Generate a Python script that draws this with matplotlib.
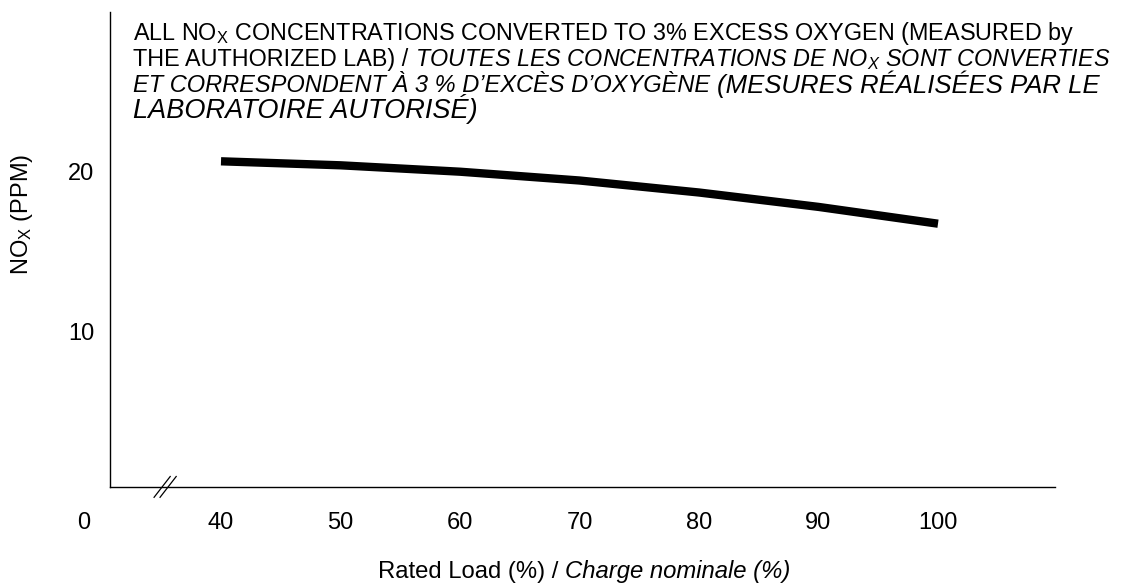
import matplotlib
matplotlib.use("Agg")
import matplotlib.pyplot as plt

W, H, DPI = 1143, 583, 100

# NOx vs rated load
load = [40, 50, 60, 70, 80, 90, 100]
nox = [20.65, 20.4, 20.0, 19.45, 18.7, 17.8, 16.75]

x_ticks = [28.5, 40, 50, 60, 70, 80, 90, 100]
x_tick_labels = ["0", "40", "50", "60", "70", "80", "90", "100"]
y_ticks = [10, 20]
y_tick_labels = ["10", "20"]

plt.rcParams["font.family"] = ["Liberation Sans", "DejaVu Sans"]
plt.rcParams["mathtext.fontset"] = "custom"
plt.rcParams["mathtext.rm"] = "Liberation Sans"
plt.rcParams["mathtext.it"] = "Liberation Sans:italic"

X_MIN, X_MAX = 27, 110
Y_MIN, Y_MAX = 0.3, 30
PX_PER_X = 11.95
PX_PER_Y = 16.0
X40_PX = 221
Y20_PX = 171.7


def px(x, y):
    return x / W, 1 - y / H


fig = plt.figure(figsize=(W / DPI, H / DPI), dpi=DPI)
left = X40_PX - (40 - X_MIN) * PX_PER_X
right = X40_PX + (X_MAX - 40) * PX_PER_X
top = Y20_PX - (Y_MAX - 20) * PX_PER_Y
bottom = Y20_PX + (20 - Y_MIN) * PX_PER_Y
ax = fig.add_axes([left / W, 1 - bottom / H, (right - left) / W, (bottom - top) / H])

ax.plot(load, nox, color="black", lw=6.0, solid_capstyle="butt")

ax.set_xlim(X_MIN, X_MAX)
ax.set_ylim(Y_MIN, Y_MAX)
for s in ["top", "right"]:
    ax.spines[s].set_visible(False)
ax.spines["left"].set_position(("data", 30.7))
ax.spines["bottom"].set_bounds(30.7, 109.8)
ax.spines["left"].set_linewidth(1.0)
ax.spines["bottom"].set_linewidth(1.0)

ax.set_xticks(x_ticks)
ax.set_xticklabels(x_tick_labels)
ax.set_yticks(y_ticks)
ax.set_yticklabels(y_tick_labels)
ax.tick_params(axis="x", length=0, pad=18, labelsize=17)
ax.tick_params(axis="y", length=0, pad=11, labelsize=17)

# axis break marks
for x0 in [34.4, 34.9]:
    ax.plot([x0, x0 + 1.35], [Y_MIN - 0.65, Y_MIN + 0.65], color="black",
            lw=0.9, clip_on=False)

renderer = fig.canvas.get_renderer()


def draw_runs(x, y, runs):
    for text, size, style, dy in runs:
        t = fig.text(*px(x, y + dy), text, fontsize=size, style=style,
                     ha="left", va="baseline")
        bb = t.get_window_extent(renderer)
        x = bb.x1 + size * 0.28 * DPI / 72


draw_runs(133, 40, [
    ("ALL NO$_\\mathrm{X}$ CONCENTRATIONS CONVERTED TO 3% EXCESS OXYGEN (MEASURED by",
     16.8, "normal", 0),
])
draw_runs(133, 66, [
    ("THE AUTHORIZED LAB) /", 16.8, "normal", 0),
    ("TOUTES LES CONCENTRATIONS DE NO$_\\mathit{X}$ SONT CONVERTIES", 16.8, "italic", 0),
])
draw_runs(133, 92, [
    ("ET CORRESPONDENT À 3 % D’EXCÈS D’OXYGÈNE", 17, "italic", 0),
    ("(MESURES RÉALISÉES PAR LE", 18.5, "italic", 1),
])
draw_runs(133, 118, [
    ("LABORATOIRE AUTORISÉ)", 19.5, "italic", 0),
])

draw_runs(378, 578, [
    ("Rated Load (%) /", 17.2, "normal", 0),
    ("Charge nominale (%)", 17.2, "italic", 0),
])

fig.text(*px(22, 214), "NO$_\\mathrm{X}$ (PPM)", fontsize=17, rotation=90,
         ha="center", va="center")

fig.savefig("out.png", dpi=DPI)
